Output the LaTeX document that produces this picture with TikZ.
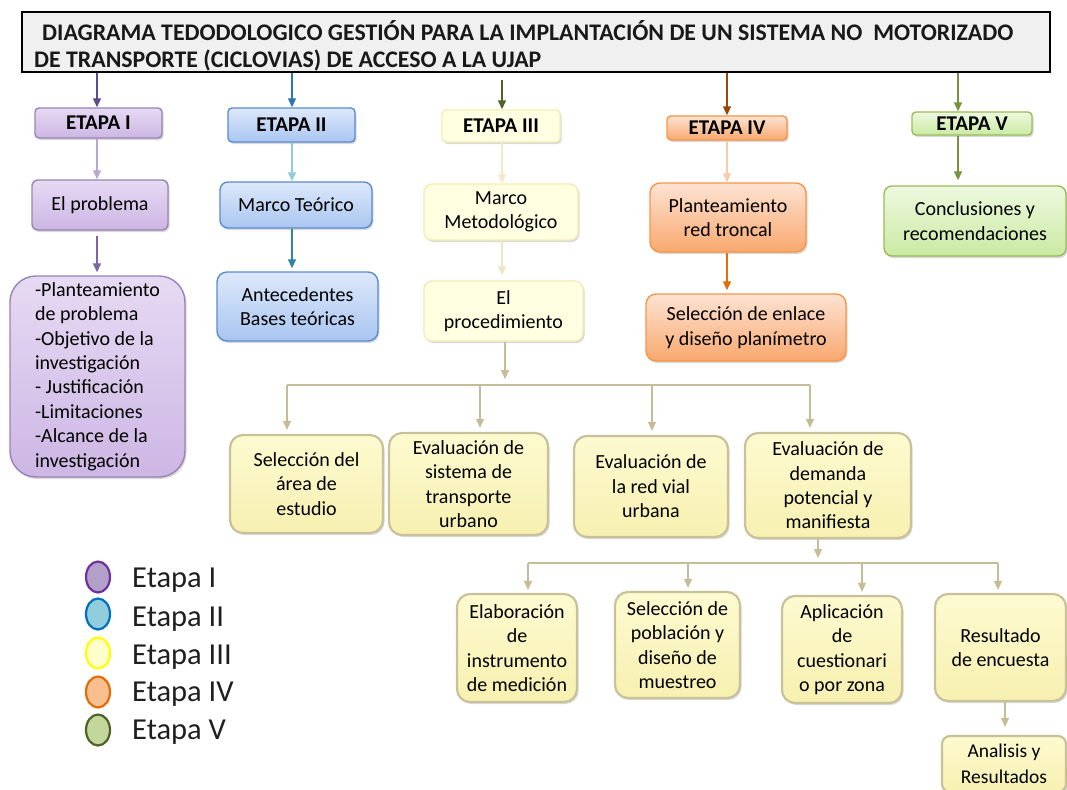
\documentclass[tikz,border=0pt]{standalone}
\usepackage{fontspec}
\setmainfont{Carlito}
\usetikzlibrary{arrows.meta,shadows,calc,shapes.geometric}
\definecolor{purB}{HTML}{8064A2}
\definecolor{purT}{HTML}{E6DAF3}
\definecolor{purM}{HTML}{CDB6E4}
\definecolor{bluB}{HTML}{5B8BD0}
\definecolor{bluT}{HTML}{DDE8FA}
\definecolor{bluM}{HTML}{A9C6F1}
\definecolor{yelB}{HTML}{F3EDB5}
\definecolor{yelF}{HTML}{FFFFE2}
\definecolor{rowB}{HTML}{C8C19A}
\definecolor{rowT}{HTML}{FDFAD0}
\definecolor{rowM}{HTML}{F7F0B0}
\definecolor{oraB}{HTML}{F79646}
\definecolor{oraT}{HTML}{FDE3D3}
\definecolor{oraM}{HTML}{F9A86E}
\definecolor{grnB}{HTML}{9BBB59}
\definecolor{grnT}{HTML}{EEF8DF}
\definecolor{grnM}{HTML}{C9EAA2}
\definecolor{khaki}{HTML}{C4BD97}
\definecolor{aPurD}{HTML}{5F4B8B}
\definecolor{aPurL}{HTML}{B9A6D2}
\definecolor{aPur}{HTML}{8064A2}
\definecolor{aBluD}{HTML}{2E75B6}
\definecolor{aCyan}{HTML}{93CDDD}
\definecolor{aTeal}{HTML}{31859C}
\definecolor{aOliv}{HTML}{4F6228}
\definecolor{aPale}{HTML}{FBE5C8}
\definecolor{aPale2}{HTML}{EFE6C6}
\definecolor{aBrown}{HTML}{984807}
\definecolor{aPeach}{HTML}{FACBAA}
\definecolor{aOra}{HTML}{E46C0A}
\definecolor{aGrn}{HTML}{77933C}
\definecolor{lPurF}{HTML}{B1A0C7}
\definecolor{lPurD}{HTML}{7030A0}
\definecolor{lBluF}{HTML}{92CDDC}
\definecolor{lBluD}{HTML}{0070C0}
\definecolor{lYelF}{HTML}{FFFFCC}
\definecolor{lYelD}{HTML}{FFFF00}
\definecolor{lOraF}{HTML}{FABF8F}
\definecolor{lOraD}{HTML}{E36C09}
\definecolor{lGrnF}{HTML}{C3D69B}
\definecolor{lGrnD}{HTML}{4F6228}
\definecolor{titleF}{HTML}{F0F0F0}
\tikzset{
  base/.style={rounded corners=6pt, line width=1.4pt, align=center, inner sep=2pt,
     font=\fontsize{20}{24.4}\selectfont, text=black,
     drop shadow={shadow xshift=1.5pt, shadow yshift=-2pt, opacity=.25, fill=black!60}},
  purbox/.style={base, draw=purB!80, top color=purT, bottom color=purM},
  blubox/.style={base, draw=bluB, top color=bluT, bottom color=bluM},
  yelbox/.style={base, draw=yelB, fill=yelF},
  rowbox/.style={base, rounded corners=13pt, draw=rowB, line width=2.2pt, top color=rowT, bottom color=rowM},
  orabox/.style={base, rounded corners=10pt, draw=oraB, top color=oraT, bottom color=oraM},
  grnbox/.style={base, rounded corners=8pt, draw=grnB, top color=grnT, bottom color=grnM},
  etapa/.style={font=\fontsize{21}{24}\selectfont\bfseries, rounded corners=4pt},
  arr/.style={-{Triangle[length=9pt,width=8pt]}, line width=1.3pt},
  bus/.style={line width=1.6pt, draw=khaki},
  leg/.style={ellipse, minimum width=24pt, minimum height=31pt, line width=2.2pt, inner sep=0pt},
  legtxt/.style={anchor=west, font=\fontsize{30.5}{32}\selectfont, text=black!88, inner sep=0pt},
  ttl/.style={anchor=west, inner sep=0pt, font=\fontsize{23.8}{26}\selectfont\bfseries, text=black!90}
}
\begin{document}
\begin{tikzpicture}[x=1pt,y=-1pt]
\useasboundingbox (0,0) rectangle (1067,789);
% title
\node[draw=black, line width=2.8pt, fill=titleF, minimum width=1028pt, minimum height=60pt, inner sep=0pt,
  drop shadow={shadow xshift=1pt, shadow yshift=-1.5pt, opacity=.3}] (title) at (536,42) {};
\node[ttl] (t1) at (42,31)
  {DIAGRAMA TEDODOLOGICO GESTIÓN PARA LA IMPLANTACIÓN DE UN SISTEMA NO\ \ MOTORIZADO};
\node[ttl] (t2) at (34,60)
  {DE TRANSPORTE (CICLOVIAS) DE ACCESO A LA UJAP};
% etapas
\node[purbox, etapa, minimum width=127pt, minimum height=30pt] (e1) at (98.5,123) {ETAPA I};
\node[blubox, etapa, minimum width=127pt, minimum height=34pt] (e2) at (291.5,125) {ETAPA II};
\node[yelbox, etapa, minimum width=118pt, minimum height=32pt] (e3) at (501,126) {ETAPA III};
\node[orabox, etapa, rounded corners=4pt, minimum width=120pt, minimum height=24pt] (e4) at (727,128) {ETAPA IV};
\node[grnbox, etapa, rounded corners=4pt, minimum width=120pt, minimum height=23pt] (e5) at (972,123.5) {ETAPA V};
% column I
\node[purbox, minimum width=136pt, minimum height=50pt] (p1) at (100,205) {El problema};
\node[purbox, rounded corners=26pt, minimum width=175pt, minimum height=201pt, align=left] (p2) at (97.5,376.5)
  {-Planteamiento\\de problema\\-Objetivo de la\\investigación\\- Justificación\\-Limitaciones\\-Alcance de la\\investigación};
% column II
\node[blubox, rounded corners=8pt, minimum width=152pt, minimum height=46pt] (b1) at (296,205) {Marco Teórico};
\node[blubox, rounded corners=10pt, minimum width=161pt, minimum height=69pt] (b2) at (297.5,306.5) {Antecedentes\\Bases teóricas};
% column III
\node[yelbox, rounded corners=8pt, minimum width=154pt, minimum height=56pt] (y1) at (501,212) {Marco\\Metodológico};
\node[yelbox, rounded corners=8pt, minimum width=159pt, minimum height=60pt] (y2) at (503.5,311) {El\\procedimiento};
\node[rowbox, minimum width=153pt, minimum height=98pt] (r1) at (306.5,484) {Selección del\\área de\\estudio};
\node[rowbox, minimum width=159pt, minimum height=102pt] (r2) at (468.5,484) {Evaluación de\\sistema de\\transporte\\urbano};
\node[rowbox, minimum width=154pt, minimum height=101pt] (r3) at (651,486.5) {Evaluación de\\la red vial\\urbana};
\node[rowbox, minimum width=166pt, minimum height=105pt] (r4) at (828,485.5) {Evaluación de\\demanda\\potencial y\\manifiesta};
\node[rowbox, minimum width=120pt, minimum height=108pt] (s1) at (517,648) {Elaboración\\de\\instrumento\\de medición};
\node[rowbox, minimum width=125pt, minimum height=106pt] (s2) at (677.5,645) {Selección de\\población y\\diseño de\\muestreo};
\node[rowbox, minimum width=120pt, minimum height=107pt] (s3) at (842,649.5) {Aplicación\\de\\cuestionari\\o por zona};
\node[rowbox, minimum width=131pt, minimum height=107pt] (s4) at (1000.5,647.5) {Resultado\\de encuesta};
\node[rowbox, rounded corners=8pt, minimum width=124pt, minimum height=56pt, font=\fontsize{19.5}{25.5}\selectfont] (a1) at (1004,764) {Analisis y\\Resultados};
% column IV
\node[orabox, minimum width=156pt, minimum height=69pt] (o1) at (728,217.5) {Planteamiento\\red troncal};
\node[orabox, minimum width=200pt, minimum height=67pt] (o2) at (746,327.5) {Selección de enlace\\y diseño planímetro};
% column V
\node[grnbox, minimum width=182pt, minimum height=70pt] (g1) at (975,221) {Conclusiones y\\recomendaciones};
% coordinates for connector x positions
\coordinate (xI) at (97,0);
\coordinate (xII) at (292,0);
\coordinate (xIII) at (502,0);
\coordinate (xIV) at (727,0);
\coordinate (xV) at (958,0);
% arrows from title
\draw[arr, draw=aPurD, fill=aPurD] (title.south -| xI) -- (e1.north -| xI);
\draw[arr, draw=aBluD, fill=aBluD] (title.south -| xII) -- (e2.north -| xII);
\draw[arr, draw=aOliv, fill=aOliv] ($(title.south -| xIII)+(0,7)$) -- (e3.north -| xIII);
\draw[arr, draw=aBrown, fill=aBrown] (title.south -| xIV) -- (e4.north -| xIV);
\draw[arr, draw=aGrn, fill=aGrn] (title.south -| xV) -- (e5.north -| xV);
% stage I
\draw[arr, draw=aPurL] (e1.south -| xI) -- (p1.north -| xI);
\draw[arr, draw=aPur, shorten <=5pt, shorten >=3pt] (p1.south -| xI) -- (p2.north -| xI);
% stage II
\draw[arr, draw=aCyan] (e2.south -| xII) -- (b1.north -| xII);
\draw[arr, draw=aTeal, shorten >=3pt] (b1.south -| xII) -- (b2.north -| xII);
% stage III
\draw[arr, draw=aPale] (e3.south -| xIII) -- (y1.north -| xIII);
\draw[arr, draw=aPale2, shorten >=5pt] (y1.south -| xIII) -- (y2.north -| xIII);
\coordinate (bus1) at (505,385);
\coordinate (bL) at (287,385);
\coordinate (bR) at (810,385);
\draw[arr, draw=khaki] (y2.south -| bus1) -- ($(bus1)+(0,-6)$);
\draw[bus] (bL) -- (bR);
\draw[arr, draw=khaki, shorten >=4pt] (bL) -- (bL |- r1.north);
\draw[arr, draw=khaki, shorten >=4pt] (bL -| 480,0) -- (r2.north -| 480,0);
\draw[arr, draw=khaki, shorten >=4pt] (bL -| 652,0) -- (r3.north -| 652,0);
\draw[arr, draw=khaki, shorten >=4pt] (bR) -- (bR |- r4.north);
\coordinate (bus2) at (818,563);
\coordinate (cL) at (528,563);
\coordinate (cR) at (998,563);
\draw[arr, draw=khaki] (r4.south -| bus2) -- ($(bus2)+(0,-5)$);
\draw[bus] (cL) -- (cR);
\draw[arr, draw=khaki, shorten >=3pt] (cL) -- (cL |- s1.north);
\draw[arr, draw=khaki, shorten >=3pt] (cL -| 688,0) -- (s2.north -| 688,0);
\draw[arr, draw=khaki, shorten >=3pt] (cL -| 862,0) -- (s3.north -| 862,0);
\draw[arr, draw=khaki, shorten >=3pt] (cR) -- (cR |- s4.north);
\draw[arr, draw=khaki, shorten >=8pt] (s4.south -| 1005,0) -- (a1.north -| 1005,0);
% stage IV
\draw[arr, draw=aPeach] (e4.south -| xIV) -- (o1.north -| xIV);
\draw[arr, draw=aOra, shorten >=3pt] (o1.south -| xIV) -- (o2.north -| xIV);
% stage V
\draw[arr, draw=aGrn, fill=aGrn, shorten >=5pt] (e5.south -| xV) -- (g1.north -| xV);
% legend
\node[leg, draw=lPurD, fill=lPurF] (l1) at (98,577) {};
\node[leg, draw=lBluD, fill=lBluF] (l2) at (98,614) {};
\node[leg, draw=lYelD, fill=lYelF] (l3) at (98,653) {};
\node[leg, draw=lOraD, fill=lOraF] (l4) at (98,692) {};
\node[leg, draw=lGrnD, fill=lGrnF] (l5) at (98,730) {};
\node[legtxt] (m1) at (132,580) {Etapa I};
\node[legtxt] (m2) at (132,619) {Etapa II};
\node[legtxt] (m3) at (132,657) {Etapa III};
\node[legtxt] (m4) at (132,694) {Etapa IV};
\node[legtxt] (m5) at (132,732) {Etapa V};
\end{tikzpicture}
\end{document}
